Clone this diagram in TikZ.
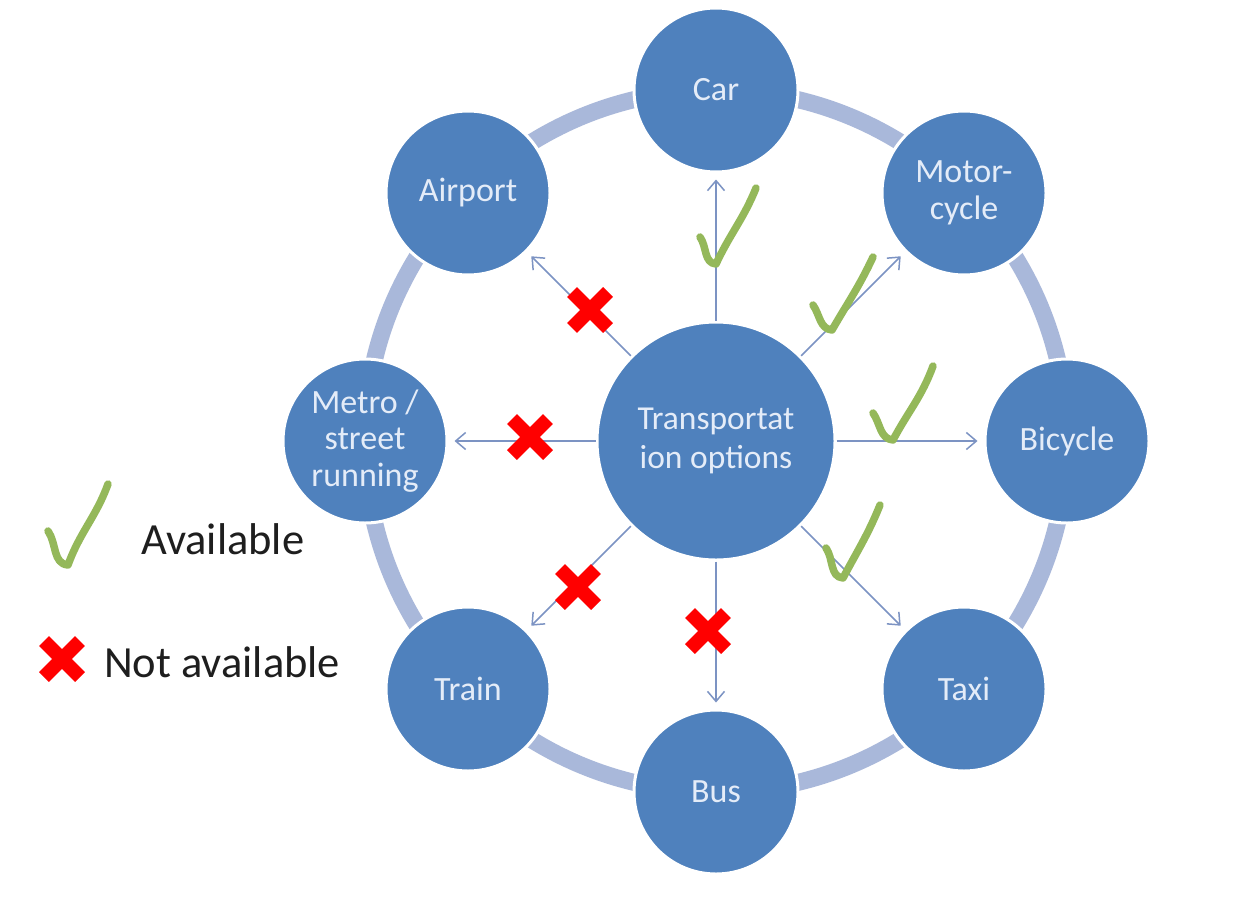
\documentclass[tikz,border=0pt]{standalone}
\usepackage{fontspec}
\setmainfont{Carlito}
\usetikzlibrary{arrows.meta}
\definecolor{nodeblue}{HTML}{4F81BD}
\definecolor{nodetext}{HTML}{E4ECF8}
\definecolor{ringcol}{HTML}{A9B8DA}
\definecolor{arrowcol}{HTML}{7C93C3}
\definecolor{checkgreen}{HTML}{94B85A}
\definecolor{xred}{HTML}{FF0000}
\definecolor{legendtext}{HTML}{1E1E1E}
\tikzset{
  hub/.style={circle, fill=nodeblue, draw=white, line width=3pt, inner sep=0pt,
    minimum size=238pt, text=nodetext, align=center,
    font=\fontsize{33.5}{39}\selectfont},
  opt/.style={circle, fill=nodeblue, draw=white, line width=3pt, inner sep=0pt,
    minimum size=164pt, text=nodetext, align=center,
    font=\fontsize{34}{36.5}\selectfont},
  ringline/.style={draw=ringcol, line width=17pt},
  arr/.style={draw=arrowcol, line width=1.5pt, shorten >=6pt,
    -{Straight Barb[length=10pt,width=17pt,line width=1.5pt]}},
  check/.style={draw=checkgreen, line width=7.5pt, line cap=round, line join=round},
  xmark/.style={draw=xred, line width=14pt, line cap=butt},
  redx/.pic={\draw[xmark] (-18,-18) -- (18,18) (-18,18) -- (18,-18);},
  legend/.style={anchor=base west, inner sep=0pt, text=legendtext,
    font=\fontsize{44.5}{50}\selectfont}
}
\begin{document}
\begin{tikzpicture}[x=1pt,y=-1pt]
\useasboundingbox (0,0) rectangle (1247,900);
\fill[white] (0,0) rectangle (1247,900);
% ring
\coordinate (ringc) at (716,441);
\draw[ringline] (ringc) circle (351pt);
% nodes
\node[hub] (hub) at (716,441) {Transportat\\ion options};
\node[opt] (car) at (716,90) {Car};
\node[opt] (moto) at (964,193) {Motor-\\cycle};
\node[opt] (bike) at (1067,441) {Bicycle};
\node[opt] (taxi) at (964,689) {Taxi};
\node[opt] (bus) at (716,792) {Bus};
\node[opt] (train) at (468,689) {Train};
\node[opt] (metro) at (365,441) {Metro /\\street\\running};
\node[opt] (air) at (468,193) {Airport};
% arrows
\foreach \t in {car,moto,bike,taxi,bus,train,metro,air}
  \draw[arr] (hub) -- (\t);
% checks
\draw[check] (700,237) to[out=-55,in=175] (716,264) to[out=65,in=-112] (756,188);
\draw[check] (813,305) to[out=-55,in=175] (832,330) to[out=60,in=-115] (873,257);
\draw[check] (873,413) to[out=-55,in=175] (893,440) to[out=62,in=-110] (933,366);
\draw[check] (826,548) to[out=-55,in=175] (843,578) to[out=62,in=-112] (880,505);
\draw[check] (48,531) to[out=-55,in=175] (68,565) to[out=70,in=-110] (108,484);
% crosses
\pic at (590,310) {redx};
\pic at (530,437) {redx};
\pic at (578,587) {redx};
\pic at (708,631) {redx};
\pic at (62,659) {redx};
% legend
\node[legend] (lavail) at (141,554) {Available};
\node[legend] (lnot) at (104,677) {Not available};
\end{tikzpicture}
\end{document}
